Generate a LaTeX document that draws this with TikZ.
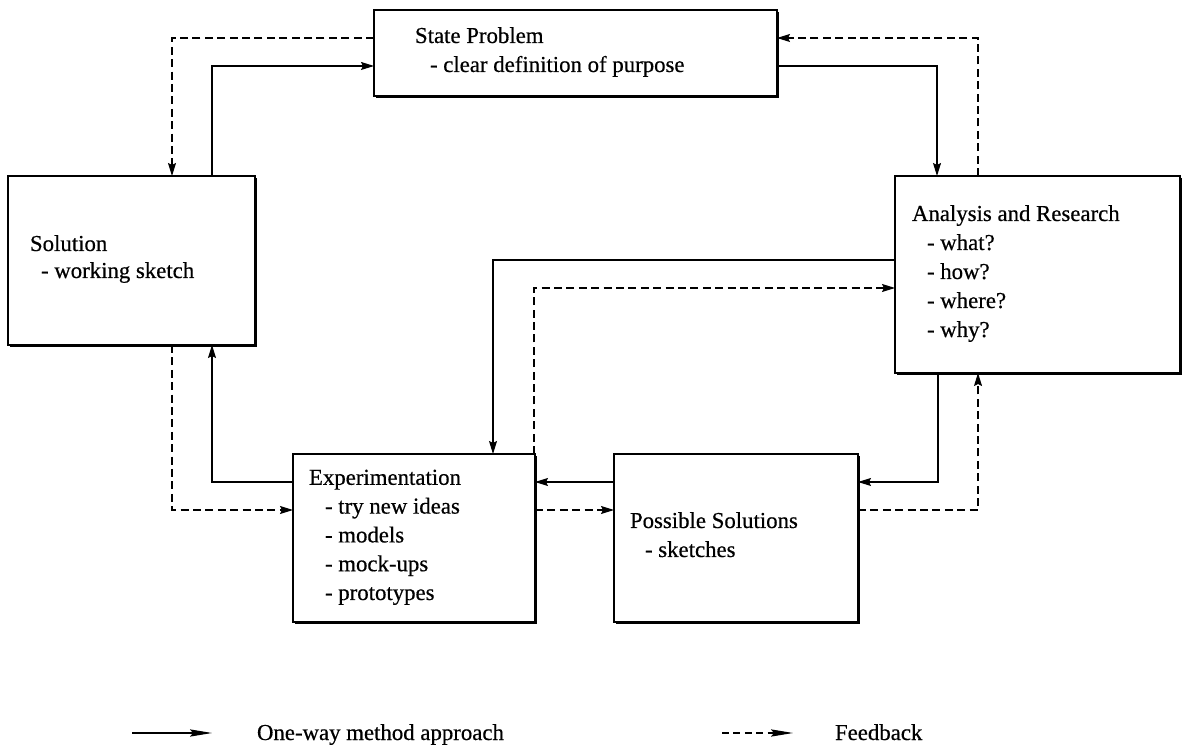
\documentclass[tikz,border=0pt]{standalone}
\usepackage{fontspec}
\setmainfont{Liberation Serif}[FakeBold=0.5]
\usetikzlibrary{arrows.meta,shadows}

\begin{document}
\begin{tikzpicture}[x=0.5pt,y=-0.5pt,
  box/.style={draw, line width=0.75pt, fill=white, rectangle, inner sep=0pt, outer sep=0pt,
    general shadow={fill=black, shadow xshift=1pt, shadow yshift=-1pt}},
  txt/.style={anchor=base west, align=left, inner sep=0pt, outer sep=0pt,
    font=\fontsize{11.4}{14.5}\selectfont},
  flow/.style={line width=0.55pt, -{Stealth[length=6.5pt,width=4pt,inset=1pt]}},
  fb/.style={flow, dash pattern=on 4pt off 2.2pt},
  keyflow/.style={line width=0.55pt, -{Stealth[length=11pt,width=3.6pt,inset=1.5pt]}},
  keyfb/.style={keyflow, dash pattern=on 3.5pt off 2.2pt}]

\useasboundingbox (0,0) rectangle (1182,747);
\fill[white] (0,0) rectangle (1182,747);

% boxes
\node[box, minimum width=201.5pt, minimum height=43pt]  (sp)  at (575.5,53)   {};
\node[box, minimum width=123.5pt, minimum height=84.5pt] (sol) at (131.5,260.5) {};
\node[box, minimum width=142.5pt, minimum height=98.5pt] (ar)  at (1037.5,274.5) {};
\node[box, minimum width=121pt,   minimum height=84pt]  (exp) at (414,538)    {};
\node[box, minimum width=122pt,   minimum height=84pt]  (ps)  at (736,538)    {};

% box texts (each node is placed at the baseline of its last line)
\node[txt] (tsp) at (415,72) {State Problem\\\hspace*{7.5pt}- clear definition of purpose};
\node[txt, font=\fontsize{11.4}{13.5}\selectfont] (tsol) at (30,278) {Solution\\\hspace*{5.5pt}- working sketch};
\node[txt] (tar) at (912,337) {Analysis and Research\\\hspace*{7.5pt}- what?\\\hspace*{7.5pt}- how?\\\hspace*{7.5pt}- where?\\\hspace*{7.5pt}- why?};
\node[txt, font=\fontsize{11.4}{14.4}\selectfont] (texp) at (309,600) {Experimentation\\\hspace*{8pt}- try new ideas\\\hspace*{8pt}- models\\\hspace*{8pt}- mock-ups\\\hspace*{8pt}- prototypes};
\node[txt] (tps) at (630,557) {Possible Solutions\\\hspace*{7.5pt}- sketches};

% routing points
\coordinate (k1) at (172,38);
\coordinate (k2) at (212,66);
\coordinate (k3) at (937,66);
\coordinate (k4) at (978,38);
\coordinate (k5) at (493,260);
\coordinate (k6) at (534,288);
\coordinate (k7) at (0,482);
\coordinate (k8) at (0,510);
\coordinate (k9) at (938,482);
\coordinate (k10) at (978,510);
\coordinate (k11) at (212,482);
\coordinate (k12) at (172,510);

% connectors
\draw[fb]   (sp.west |- k1) -| (sol.north -| k1);
\draw[flow] (sol.north -| k2) |- (sp.west |- k2);
\draw[flow] (sp.east |- k3) -| (ar.north -| k3);
\draw[fb]   (ar.north -| k4) |- (sp.east |- k4);
\draw[flow] (ar.west |- k5) -| (exp.north -| k5);
\draw[fb]   (exp.north -| k6) |- (ar.west |- k6);
\draw[flow] (ps.west |- k7) -- (exp.east |- k7);
\draw[fb]   (exp.east |- k8) -- (ps.west |- k8);
\draw[flow] (ar.south -| k9) |- (ps.east |- k9);
\draw[fb]   (ps.east |- k10) -| (ar.south -| k10);
\draw[flow] (exp.west |- k11) -| (sol.south -| k11);
\draw[fb]   (sol.south -| k12) |- (exp.west |- k12);

% key
\coordinate (la) at (132,733);
\coordinate (lb) at (212,733);
\coordinate (lc) at (722,733);
\coordinate (ld) at (793,733);
\draw[keyflow] (la) -- (lb);
\draw[keyfb] (lc) -- (ld);
\node[txt] (kone) at (257,740) {One-way method approach};
\node[txt] (kfb) at (835,740) {Feedback};
\end{tikzpicture}
\end{document}
